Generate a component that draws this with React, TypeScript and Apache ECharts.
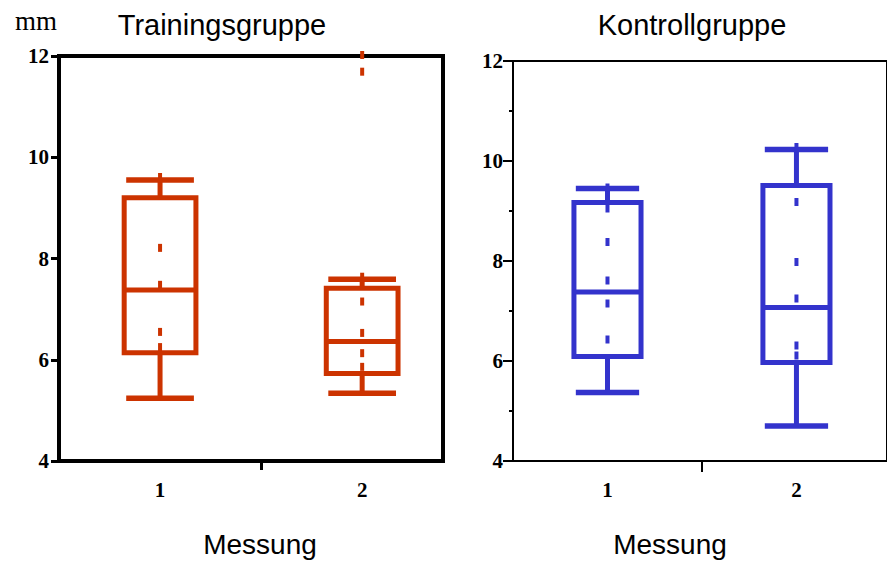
import React, { useEffect, useRef } from "react";
import * as echarts from "echarts";

// Messung (measurement occasions)
const categories = [1, 2];
// Box statistics per Messung: [min, Q1, median, Q3, max] in mm
const trainingStats = [
  [5.24, 6.14, 7.38, 9.2, 9.55],
  [5.34, 5.73, 6.36, 7.41, 7.59],
];
const kontrollStats = [
  [5.37, 6.09, 7.38, 9.17, 9.45],
  [4.7, 5.97, 7.07, 9.51, 10.23],
];
// Individual observations shown as short dashes
const trainingPoints = [
  [9.61, 8.21, 7.48, 6.55, 6.25],
  [12.02, 11.69, 7.64, 7.15, 6.53, 6.13, 5.86],
];
const kontrollPoints = [
  [9.47, 9.05, 8.38, 7.61, 7.15, 6.43],
  [10.28, 9.18, 7.98, 7.25, 6.31, 6.11],
];
const yMin = 4;
const yMax = 12;
const yStep = 2;
const panelTitles = ["Trainingsgruppe", "Kontrollgruppe"];
const xName = "Messung";
const unitLabel = "mm";

const RED = "#CC3300";
const BLUE = "#3333CC";
const SERIF = "'Liberation Serif', 'Times New Roman', serif";
const SANS = "'Liberation Sans', Arial, sans-serif";

const BOX_W = 0.355;
const CAP_W = 0.335;

function boxRenderer(color: string) {
  return (params: any, api: any) => {
    const x = api.value(0);
    const v = [1, 2, 3, 4, 5].map((i) => api.value(i));
    const p = v.map((val) => api.coord([x, val]));
    const xc = p[0][0];
    const bw = api.size([BOX_W, 0])[0];
    const cw = api.size([CAP_W, 0])[0];
    const line = { stroke: color, lineWidth: 5, fill: "none" };
    const cap = { stroke: color, lineWidth: 5.5, fill: "none" };
    return {
      type: "group",
      children: [
        { type: "line", shape: { x1: xc, y1: p[3][1], x2: xc, y2: p[4][1] }, style: line },
        { type: "line", shape: { x1: xc, y1: p[1][1], x2: xc, y2: p[0][1] }, style: line },
        { type: "line", shape: { x1: xc - cw / 2, y1: p[4][1], x2: xc + cw / 2, y2: p[4][1] }, style: cap },
        { type: "line", shape: { x1: xc - cw / 2, y1: p[0][1], x2: xc + cw / 2, y2: p[0][1] }, style: cap },
        {
          type: "rect",
          shape: { x: xc - bw / 2, y: p[3][1], width: bw, height: p[1][1] - p[3][1] },
          style: { stroke: color, lineWidth: 5, fill: "none" },
        },
        { type: "line", shape: { x1: xc - bw / 2, y1: p[2][1], x2: xc + bw / 2, y2: p[2][1] }, style: line },
      ],
    };
  };
}

function boxData(stats: number[][]) {
  return stats.map((s, i) => [categories[i], ...s]);
}

function pointData(points: number[][]) {
  const out: number[][] = [];
  points.forEach((arr, i) => arr.forEach((v) => out.push([categories[i], v])));
  return out;
}

function xAxisFor(gridIndex: number, max: number, lw: number, tickLen: number) {
  return {
    type: "value",
    gridIndex,
    min: 0.5,
    max,
    axisLine: { show: true, onZero: false, lineStyle: { color: "#000", width: lw } },
    axisTick: { show: true, customValues: [1.5], length: tickLen, lineStyle: { color: "#000", width: lw === 4 ? 3 : 2 } },
    axisLabel: {
      customValues: categories,
      margin: 18,
      color: "#000",
      fontFamily: SERIF,
      fontWeight: "bold",
      fontSize: 21,
    },
    splitLine: { show: false },
  };
}

function yAxisFor(gridIndex: number, lw: number, tickLen: number, minor: boolean) {
  return {
    type: "value",
    gridIndex,
    min: yMin,
    max: yMax,
    interval: yStep,
    axisLine: { show: true, onZero: false, lineStyle: { color: "#000", width: lw } },
    axisTick: { show: true, length: tickLen, lineStyle: { color: "#000", width: lw === 4 ? 3 : 2 } },
    minorTick: { show: minor, splitNumber: 2, length: 4, lineStyle: { color: "#000", width: 2 } },
    axisLabel: {
      margin: 10,
      color: "#000",
      fontFamily: SERIF,
      fontWeight: "bold",
      fontSize: 21,
    },
    splitLine: { show: false },
    minorSplitLine: { show: false },
  };
}

export default function App() {
  const ref = useRef<HTMLDivElement>(null);

  useEffect(() => {
    document.body.style.margin = "0";
    const chart = echarts.init(ref.current!, null, { renderer: "svg" });
    chart.setOption({
      animation: false,
      backgroundColor: "#fff",
      grid: [
        { left: 59, top: 56, width: 384, height: 405, show: true, borderColor: "#000", borderWidth: 4 },
        { left: 513, top: 61, width: 380, height: 400, show: true, borderColor: "#000", borderWidth: 2 },
      ],
      xAxis: [xAxisFor(0, 2.4, 4, 9), xAxisFor(1, 0.5 + 380 / 192, 2, 11)],
      yAxis: [yAxisFor(0, 4, 8, false), yAxisFor(1, 2, 10, true)],
      series: [
        {
          type: "custom",
          xAxisIndex: 0,
          yAxisIndex: 0,
          renderItem: boxRenderer(RED),
          encode: { x: 0, y: [1, 2, 3, 4, 5] },
          data: boxData(trainingStats),
          clip: false,
        },
        {
          type: "custom",
          xAxisIndex: 1,
          yAxisIndex: 1,
          renderItem: boxRenderer(BLUE),
          encode: { x: 0, y: [1, 2, 3, 4, 5] },
          data: boxData(kontrollStats),
          clip: false,
        },
        {
          type: "scatter",
          xAxisIndex: 0,
          yAxisIndex: 0,
          symbol: "rect",
          symbolSize: [4, 8],
          itemStyle: { color: RED, opacity: 1 },
          data: pointData(trainingPoints),
          clip: false,
          z: 5,
        },
        {
          type: "scatter",
          xAxisIndex: 1,
          yAxisIndex: 1,
          symbol: "rect",
          symbolSize: [4, 8],
          itemStyle: { color: BLUE, opacity: 1 },
          data: pointData(kontrollPoints),
          clip: false,
          z: 5,
        },
      ],
      graphic: [
        {
          type: "text",
          x: 222,
          y: 25,
          style: { text: panelTitles[0], font: `29px ${SANS}`, fill: "#000", textAlign: "center", textVerticalAlign: "middle" },
        },
        {
          type: "text",
          x: 692,
          y: 25,
          style: { text: panelTitles[1], font: `29px ${SANS}`, fill: "#000", textAlign: "center", textVerticalAlign: "middle" },
        },
        {
          type: "text",
          x: 260,
          y: 544,
          style: { text: xName, font: `28px ${SANS}`, fill: "#000", textAlign: "center", textVerticalAlign: "middle" },
        },
        {
          type: "text",
          x: 670,
          y: 544,
          style: { text: xName, font: `28px ${SANS}`, fill: "#000", textAlign: "center", textVerticalAlign: "middle" },
        },
        {
          type: "text",
          x: 36,
          y: 21,
          style: { text: unitLabel, font: `27px ${SERIF}`, fill: "#000", textAlign: "center", textVerticalAlign: "middle" },
        },
      ],
    });
    return () => chart.dispose();
  }, []);

  return <div ref={ref} style={{ width: 887, height: 561 }} />;
}
